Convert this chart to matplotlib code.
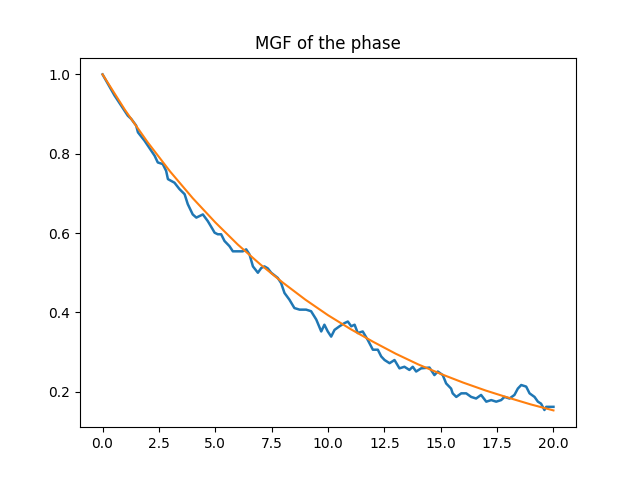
import matplotlib
matplotlib.use("Agg")
import matplotlib.pyplot as plt

# Empirical MGF (noisy, blue)
t_emp = [0.0, 0.53, 1.12, 1.27, 1.49, 1.57, 1.86, 2.31, 2.45, 2.67, 2.82, 2.90, 3.19, 3.41, 3.64,
         3.78, 4.00, 4.16, 4.45, 4.67, 4.89, 4.97, 5.11, 5.26, 5.41, 5.63, 5.78, 6.00, 6.22, 6.37,
         6.52, 6.67, 6.89, 7.04, 7.18, 7.33, 7.48, 7.77, 7.92, 8.07, 8.29, 8.51, 8.74, 9.03, 9.25,
         9.48, 9.70, 9.84, 9.99, 10.14, 10.29, 10.51, 10.73, 10.88, 11.03, 11.18, 11.32, 11.54,
         11.76, 11.99, 12.21, 12.36, 12.51, 12.73, 12.95, 13.17, 13.39, 13.61, 13.76, 13.91, 14.13,
         14.50, 14.72, 14.87, 15.09, 15.24, 15.46, 15.53, 15.69, 15.91, 16.13, 16.35, 16.57, 16.79,
         17.02, 17.24, 17.46, 17.68, 17.83, 18.05, 18.27, 18.42, 18.57, 18.79, 18.94, 19.16, 19.31,
         19.45, 19.60, 19.68, 19.82, 20.0]
v_emp = [1.0, 0.947, 0.896, 0.888, 0.871, 0.854, 0.833, 0.795, 0.778, 0.774, 0.757, 0.736, 0.727,
         0.711, 0.698, 0.673, 0.647, 0.639, 0.647, 0.630, 0.609, 0.601, 0.597, 0.597, 0.580, 0.567,
         0.554, 0.554, 0.554, 0.559, 0.546, 0.516, 0.500, 0.512, 0.516, 0.511, 0.500, 0.487, 0.474,
         0.449, 0.432, 0.411, 0.407, 0.407, 0.403, 0.382, 0.352, 0.369, 0.352, 0.339, 0.356, 0.365,
         0.373, 0.377, 0.365, 0.369, 0.348, 0.352, 0.331, 0.306, 0.306, 0.289, 0.280, 0.272, 0.280,
         0.259, 0.263, 0.255, 0.263, 0.251, 0.259, 0.261, 0.242, 0.251, 0.242, 0.221, 0.208, 0.196,
         0.187, 0.196, 0.196, 0.187, 0.183, 0.192, 0.175, 0.179, 0.175, 0.179, 0.187, 0.183, 0.192,
         0.208, 0.217, 0.213, 0.196, 0.187, 0.175, 0.170, 0.154, 0.162, 0.162, 0.162]

# Theoretical MGF (smooth, orange)
t_th = [0, 1, 2, 3, 4, 5, 6, 7, 8, 9, 10, 11, 12, 13, 14, 15, 16, 17, 18, 19, 20]
v_th = [1.0, 0.910, 0.829, 0.755, 0.688, 0.627, 0.571, 0.521, 0.475, 0.432, 0.393, 0.358,
        0.326, 0.296, 0.269, 0.245, 0.223, 0.203, 0.185, 0.168, 0.153]

fig, ax = plt.subplots(figsize=(6.4, 4.8), dpi=100)
ax.plot(t_emp, v_emp, color="#1f77b4", linewidth=1.8)
ax.plot(t_th, v_th, color="#ff7f0e", linewidth=1.5)
ax.set_title("MGF of the phase")
fig.savefig("out.png")
